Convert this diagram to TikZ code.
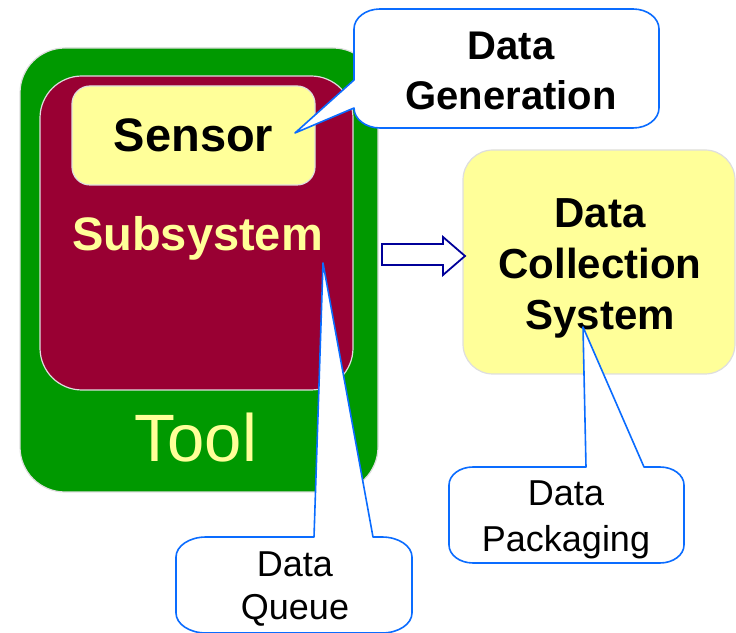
\documentclass[tikz,border=0pt]{standalone}
\usepackage{fontspec}
\setmainfont{Liberation Sans}
\usetikzlibrary{shapes, arrows}
\definecolor{toolgreen}{HTML}{009900}
\definecolor{subsysred}{HTML}{990033}
\definecolor{paleyellow}{HTML}{FFFF99}
\definecolor{calloutblue}{HTML}{0A6CFF}
\definecolor{arrownavy}{HTML}{000099}
\tikzstyle{toolbox} = [rectangle, rounded corners=45pt, draw=black!13, line width=1.2pt, fill=toolgreen]
\tikzstyle{subsysbox} = [rectangle, rounded corners=42pt, draw=black!13, line width=1.2pt, fill=subsysred]
\tikzstyle{yellowbox} = [rectangle, draw=black!13, line width=1.2pt, fill=paleyellow, align=center]
\tikzstyle{bubble} = [draw=calloutblue, fill=white, line width=1.6pt, line join=round]
\tikzstyle{bubbletext} = [align=center, inner sep=0pt]
\tikzstyle{flowarrow} = [draw=arrownavy, fill=white, line width=1.8pt]
\newcommand{\bigbold}{\fontsize{47}{54}\selectfont\bfseries}
\newcommand{\smalltext}[1]{\fontsize{36}{#1}\selectfont}

\begin{document}
\begin{tikzpicture}[x=1pt, y=1pt]
\useasboundingbox (0,0) rectangle (736,632);

% tool with its subsystem and sensor
\node[toolbox, minimum width=358pt, minimum height=444pt] (tool) at (199,362) {};
\node[subsysbox, minimum width=313pt, minimum height=314pt] (subsys) at (196.5,399) {};
\node[yellowbox, rounded corners=18pt, minimum width=243pt, minimum height=99pt,
      font=\bigbold] (sensor) at (193.5,496.5) {Sensor};
\node[anchor=base, text=paleyellow, font=\bigbold] (subsyslabel) at (197.5,381) {Subsystem};
\node[anchor=base, text=paleyellow, font=\fontsize{67}{72}\selectfont] (toollabel) at (195.5,170) {Tool};

% data collection system
\node[yellowbox, rounded corners=30pt, minimum width=272pt, minimum height=224pt] (dcs) at (599,370) {};
\node[align=center, font=\fontsize{42}{51}\selectfont\bfseries] (dcslabel) at (600,364)
  {Data\\Collection\\System};

% block arrow from tool to collection system
\draw[flowarrow] (382,367) -- (443,367) -- (443,357) -- (465,376)
  -- (443,395) -- (443,388) -- (382,388) -- cycle;

% callout tips
\coordinate (gentip) at (295,499);
\coordinate (queuetip) at (323,369);
\coordinate (packtip) at (583,305);

% Data Generation callout
\draw[bubble] (380,623) -- (633,623)
  arc[start angle=90, end angle=0, x radius=26, y radius=20] -- (659,524)
  arc[start angle=0, end angle=-90, x radius=26, y radius=20] -- (380,504)
  arc[start angle=270, end angle=180, x radius=26, y radius=20]
  -- (gentip) -- (354,552) -- (354,603)
  arc[start angle=180, end angle=90, x radius=26, y radius=20] -- cycle;
\node[bubbletext, font=\fontsize{40}{50}\selectfont\bfseries] (gen) at (511,561) {Data\\Generation};

% Data Queue callout
\draw[bubble] (206,95) -- (314,95) -- (queuetip) -- (373,95) -- (382,95)
  arc[start angle=90, end angle=0, x radius=30, y radius=20] -- (412,19)
  arc[start angle=0, end angle=-90, x radius=30, y radius=20] -- (206,-1)
  arc[start angle=270, end angle=180, x radius=30, y radius=20] -- (176,75)
  arc[start angle=180, end angle=90, x radius=30, y radius=20] -- cycle;
\node[bubbletext, font=\smalltext{43}] (queue) at (295,43) {Data\\Queue};

% Data Packaging callout
\draw[bubble] (473,165) -- (586,165) -- (packtip) -- (644,165) -- (660,165)
  arc[start angle=90, end angle=0, x radius=24, y radius=18] -- (684,87)
  arc[start angle=0, end angle=-90, x radius=24, y radius=18] -- (473,69)
  arc[start angle=270, end angle=180, x radius=24, y radius=18] -- (449,147)
  arc[start angle=180, end angle=90, x radius=24, y radius=18] -- cycle;
\node[bubbletext, font=\smalltext{46}] (pack) at (566,112) {Data\\Packaging};
\end{tikzpicture}
\end{document}
